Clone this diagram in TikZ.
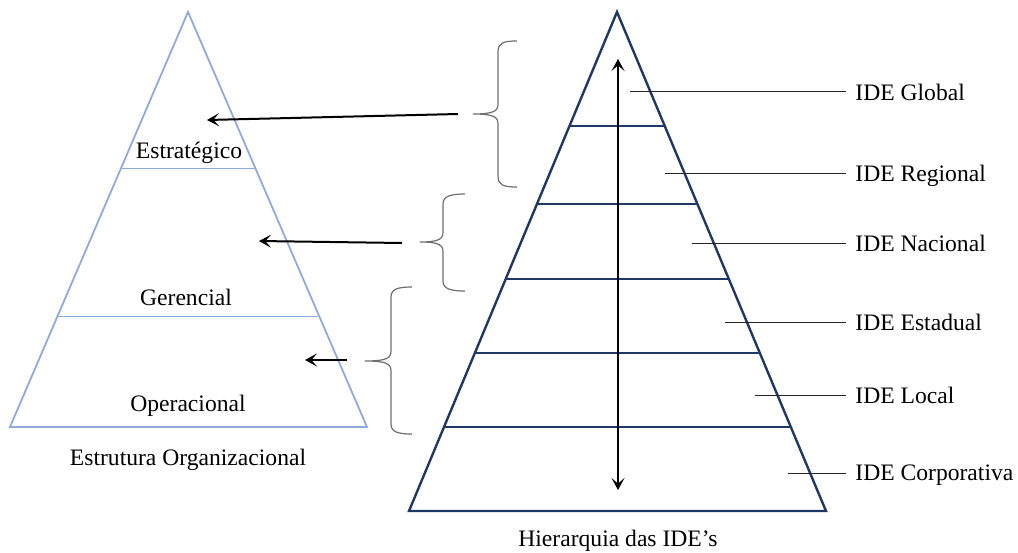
\documentclass[tikz,border=0pt]{standalone}
\usepackage{fontspec}
\setmainfont{Liberation Serif}
\usetikzlibrary{arrows.meta,calc}
\definecolor{lblue}{HTML}{8FAADC}
\definecolor{navy}{HTML}{203864}
\definecolor{bracegray}{HTML}{6E6E6E}
\tikzset{
  lbl/.style={inner sep=0pt, font=\fontsize{11.8}{14}\selectfont},
  lefttri/.style={draw=lblue, line width=0.9pt, line join=miter},
  leftdiv/.style={draw=lblue, line width=0.5pt},
  righttri/.style={draw=navy, line width=1.2pt, line join=miter},
  rightdiv/.style={draw=navy, line width=1pt},
  ptr/.style={draw=black, line width=1pt, -{Stealth[length=6pt,width=6.5pt,inset=2.8pt]}},
  dblptr/.style={draw=black, line width=1pt, {Stealth[length=6pt,width=6.5pt,inset=2.8pt]}-{Stealth[length=6pt,width=6.5pt,inset=2.8pt]}},
  leader/.style={draw=black!85, line width=0.5pt},
  bracestyle/.style={draw=bracegray, line width=0.6pt}
}
\begin{document}
\begin{tikzpicture}[x=0.5pt,y=-0.5pt]
\useasboundingbox (0,0) rectangle (1018,552);
% ---- left pyramid ----
\coordinate (LA) at (188,12);
\coordinate (LB) at (10,427);
\coordinate (LC) at (367,427);
\path[lefttri] (LA) -- (LB) -- (LC) -- cycle;
\coordinate (L1a) at (121,168); \coordinate (L1b) at (255,168);
\coordinate (L2a) at (58,316);  \coordinate (L2b) at (318,316);
\path[leftdiv] (L1a) -- (L1b);
\path[leftdiv] (L2a) -- (L2b);
\node[lbl, anchor=base] (estr) at (189,158) {Estratégico};
\node[lbl, anchor=base] (ger) at (186,305) {Gerencial};
\node[lbl, anchor=base] (oper) at (188,411) {Operacional};
\node[lbl, anchor=base] (orgt) at (188,465) {Estrutura Organizacional};
% ---- right pyramid ----
\coordinate (RA) at (617,12);
\coordinate (RB) at (409,511);
\coordinate (RC) at (826,511);
\path[righttri] (RA) -- (RB) -- (RC) -- cycle;
\foreach \yy in {126,204,279,353,427}{
  \pgfmathsetmacro{\ff}{(\yy-12)/499}
  \path[rightdiv] ($(RA)!\ff!(RB)$) -- ($(RA)!\ff!(RC)$);
}
\coordinate (VT) at (618,59);
\coordinate (VB) at (618,490);
\path[dblptr] (VT) -- (VB);
\node[lbl, anchor=base] (hier) at (618,546) {Hierarquia das IDE’s};
% labels
\node[lbl, anchor=base west] (g) at (855,100) {IDE Global};
\node[lbl, anchor=base west] (r) at (855,181) {IDE Regional};
\node[lbl, anchor=base west] (n) at (855,251) {IDE Nacional};
\node[lbl, anchor=base west] (e) at (855,330) {IDE Estadual};
\node[lbl, anchor=base west] (l) at (855,403) {IDE Local};
\node[lbl, anchor=base west] (c) at (855,480) {IDE Corporativa};
\coordinate (gs) at (630,91);  \coordinate (ge) at (846,91);
\coordinate (rs) at (665,173); \coordinate (re) at (846,173);
\coordinate (ns) at (692,243); \coordinate (ne) at (846,243);
\coordinate (es) at (725,322); \coordinate (ee) at (846,322);
\coordinate (ls) at (755,395); \coordinate (le) at (846,395);
\coordinate (cs) at (788,473); \coordinate (ce) at (846,473);
\path[leader] (gs) -- (ge);
\path[leader] (rs) -- (re);
\path[leader] (ns) -- (ne);
\path[leader] (es) -- (ee);
\path[leader] (ls) -- (le);
\path[leader] (cs) -- (ce);
% ---- braces ----
\coordinate (B1) at (473,114);
\path[bracestyle] (517,41) .. controls (503,41) and (498,43) .. (498,52) -- (498,104)
  .. controls (498,111) and (494,114) .. (B1)
  .. controls (494,114) and (498,117) .. (498,124) -- (498,176)
  .. controls (498,185) and (503,187) .. (517,187);
\coordinate (B2) at (420,242);
\path[bracestyle] (465,194) .. controls (451,194) and (443,196) .. (443,204) -- (443,232)
  .. controls (443,239) and (439,242) .. (B2)
  .. controls (439,242) and (443,245) .. (443,252) -- (443,281)
  .. controls (443,289) and (451,291) .. (465,291);
\coordinate (B3) at (365,361);
\path[bracestyle] (412,287) .. controls (398,287) and (391,289) .. (391,297) -- (391,351)
  .. controls (391,358) and (387,361) .. (B3)
  .. controls (387,361) and (391,364) .. (391,371) -- (391,424)
  .. controls (391,432) and (398,434) .. (412,434);
% ---- arrows ----
\coordinate (A1s) at (458,114); \coordinate (A1e) at (207,120);
\coordinate (A2s) at (402,243); \coordinate (A2e) at (259,241);
\coordinate (A3s) at (347,360); \coordinate (A3e) at (305,360);
\path[ptr] (A1s) -- (A1e);
\path[ptr] (A2s) -- (A2e);
\path[ptr] (A3s) -- (A3e);
\end{tikzpicture}
\end{document}
